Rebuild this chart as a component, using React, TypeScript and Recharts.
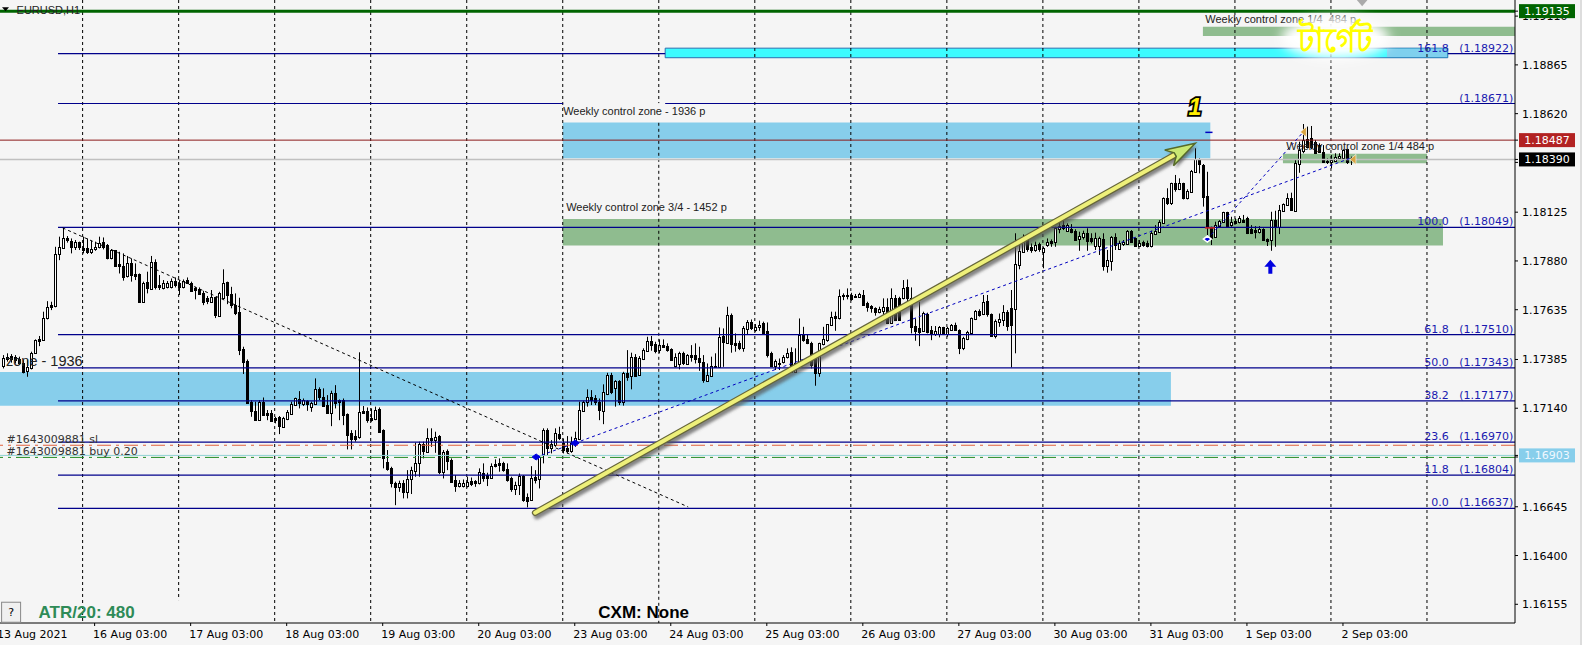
import React from 'react';
import { ComposedChart, Bar, XAxis, YAxis, ReferenceLine, ReferenceArea, ReferenceDot } from 'recharts';

// prices are the five digits after "1." (17352 = 1.17352), one hourly bar per entry
const opens = [
  17352,17399,17402,17399,17385,17365,17328,17340,17419,17486,
  17482,17591,17657,17653,17913,17946,17993,17982,17951,17973,
  17943,17943,17926,17938,17948,17973,17958,17893,17933,17864,
  17854,17804,17868,17814,17814,17675,17776,17739,17874,17759,
  17745,17747,17747,17779,17767,17747,17784,17771,17742,17737,
  17717,17692,17675,17697,17605,17692,17772,17712,17657,17622,
  17437,17379,17173,17127,17080,17173,17114,17114,17089,17097,
  17047,17086,17111,17156,17186,17161,17176,17148,17161,17235,
  17198,17156,17117,17218,17181,17181,17111,17017,17000,16993,
  17127,17127,17089,17086,17134,17030,16868,16838,16766,16745,
  16762,16720,16782,16826,16863,16958,16921,16988,16980,17000,
  16821,16926,16879,16779,16749,16749,16749,16776,16776,16762,
  16816,16804,16791,16859,16863,16866,16833,16792,16735,16752,
  16801,16695,16678,16796,16782,16905,17030,16938,16955,17013,
  16967,16938,16925,16963,16983,17127,17171,17196,17189,17173,
  17127,17214,17307,17240,17276,17173,17315,17302,17399,17307,
  17387,17429,17479,17462,17432,17457,17454,17436,17352,17362,
  17416,17362,17407,17405,17390,17374,17278,17303,17352,17348,
  17503,17469,17608,17469,17469,17444,17538,17571,17533,17546,
  17566,17528,17416,17354,17369,17374,17399,17421,17323,17365,
  17508,17486,17469,17399,17315,17462,17482,17558,17605,17591,
  17709,17709,17707,17704,17700,17709,17667,17653,17645,17625,
  17630,17650,17566,17695,17695,17692,17747,17692,17553,17541,
  17528,17613,17533,17511,17511,17546,17513,17533,17558,17533,
  17444,17489,17519,17586,17628,17613,17678,17611,17503,17575,
  17583,17625,17645,17637,17859,17926,18005,17948,17935,17963,
  17926,17962,17982,17977,18039,18059,18032,18039,18032,17992,
  17998,18022,17993,17957,17957,17992,17854,17881,17998,17940,
  17965,17963,18032,17995,17957,17977,17972,17957,18015,18027,
  18072,18194,18169,18270,18241,18270,18194,18228,18327,18392,
  18362,18206,18049,18002,18057,18077,18124,18060,18082,18074,
  18085,18094,18039,18035,18027,18040,17988,17985,18085,18049,
  18132,18161,18198,18132,18367,18434,18491,18496,18479,18462,
  18429,18384,18377,18384,18395,18395,18441,18396,
];
const closes = [
  17390,17385,17385,17382,17365,17323,17348,17419,17482,17479,
  17591,17650,17650,17913,17948,17993,17985,17951,17977,17948,
  17935,17926,17938,17951,17972,17951,17893,17935,17856,17854,
  17801,17868,17809,17804,17675,17767,17742,17873,17747,17747,
  17767,17767,17779,17759,17747,17779,17771,17730,17734,17714,
  17675,17678,17697,17608,17717,17767,17709,17658,17617,17432,
  17374,17168,17127,17080,17173,17106,17106,17077,17080,17050,
  17089,17122,17161,17189,17164,17181,17161,17168,17235,17194,
  17151,17114,17218,17168,17173,17106,17005,16983,16987,17119,
  17117,17080,17080,17131,17022,16888,16833,16762,16745,16762,
  16720,16782,16829,16863,16960,16925,16988,16980,16997,16821,
  16921,16876,16771,16749,16766,16766,16771,16759,16762,16821,
  16792,16792,16851,16849,16854,16829,16779,16735,16754,16801,
  16678,16675,16792,16779,16896,17030,16938,16958,17017,16988,
  16930,16926,16967,16988,17131,17173,17194,17181,17173,17131,
  17220,17307,17223,17276,17173,17315,17298,17399,17302,17390,
  17432,17479,17457,17429,17457,17449,17432,17382,17399,17416,
  17369,17405,17399,17385,17374,17281,17307,17352,17348,17499,
  17471,17608,17462,17457,17441,17541,17571,17541,17546,17560,
  17519,17407,17354,17377,17362,17399,17419,17323,17369,17508,
  17482,17469,17357,17318,17466,17487,17561,17596,17591,17705,
  17704,17704,17689,17697,17714,17658,17647,17642,17625,17637,
  17647,17570,17692,17583,17583,17745,17692,17549,17529,17524,
  17616,17524,17519,17529,17546,17513,17544,17558,17533,17444,
  17491,17521,17591,17628,17608,17675,17611,17503,17580,17586,
  17625,17555,17558,17863,17930,18002,17938,17935,17960,17938,
  17943,17975,17972,18044,18055,18044,18059,18024,17985,18005,
  18022,17982,17982,17997,17997,17854,17885,17998,17960,17968,
  17977,18032,17977,17957,17968,17960,17955,18022,18032,18075,
  18194,18169,18270,18240,18270,18194,18231,18332,18390,18365,
  18203,18052,17993,18060,18080,18124,18055,18074,18069,18094,
  18077,18018,18018,18027,18040,17985,17982,18085,18049,18136,
  18166,18194,18136,18370,18437,18488,18454,18451,18421,18429,
  18379,18375,18387,18400,18407,18437,18379,18390,
];
const highs = [
  17407,17416,17412,17407,17399,17382,17382,17424,17486,17503,
  17625,17678,17675,17951,18002,18049,18005,17993,17985,17977,
  18002,17993,17982,17977,18002,17998,17965,17940,17935,17926,
  17918,17905,17893,17868,17817,17776,17826,17905,17888,17809,
  17784,17779,17792,17797,17784,17787,17797,17776,17750,17747,
  17730,17704,17734,17700,17725,17838,17776,17750,17717,17695,
  17449,17385,17181,17173,17181,17194,17131,17131,17097,17101,
  17097,17131,17173,17193,17226,17189,17181,17173,17290,17245,
  17240,17206,17228,17256,17184,17189,17114,17030,17030,17421,
  17151,17144,17139,17148,17144,17034,16930,16846,16771,16776,
  16779,16829,16846,16967,16972,16972,17039,17039,17022,17005,
  16930,16933,16888,16804,16779,16782,16796,16792,16779,16838,
  16863,16816,16863,16883,16888,16871,16863,16796,16771,16812,
  16804,16712,16849,16829,16905,17039,17039,16980,17039,17047,
  16988,17000,16997,17022,17173,17178,17235,17231,17206,17189,
  17260,17318,17318,17281,17281,17323,17432,17419,17412,17402,
  17441,17499,17503,17474,17486,17486,17466,17441,17416,17424,
  17424,17412,17457,17466,17449,17407,17365,17399,17416,17546,
  17541,17650,17616,17516,17479,17553,17583,17586,17563,17580,
  17575,17571,17424,17385,17390,17407,17441,17446,17441,17591,
  17549,17508,17474,17416,17469,17549,17563,17625,17625,17737,
  17717,17742,17720,17714,17720,17734,17675,17658,17647,17650,
  17692,17692,17742,17709,17700,17784,17787,17747,17591,17675,
  17625,17620,17553,17553,17553,17549,17549,17563,17570,17536,
  17499,17529,17596,17633,17637,17709,17709,17616,17586,17616,
  17658,17633,17734,18019,17972,18013,18013,17968,17977,17972,
  17951,17993,17988,18052,18077,18089,18069,18065,18039,18027,
  18032,18044,18019,18022,18002,18019,17935,18005,18019,17982,
  17985,18035,18035,17998,17985,17982,17982,18032,18060,18085,
  18199,18245,18273,18312,18295,18273,18240,18337,18446,18395,
  18367,18328,18052,18077,18085,18127,18127,18102,18094,18106,
  18111,18102,18060,18055,18055,18044,17993,18127,18132,18161,
  18169,18220,18223,18387,18479,18568,18555,18558,18488,18471,
  18462,18395,18412,18421,18421,18441,18444,18404,
];
const lows = [
  17340,17374,17369,17365,17357,17315,17298,17335,17416,17452,
  17479,17586,17633,17647,17884,17943,17972,17918,17935,17935,
  17918,17915,17915,17931,17943,17938,17888,17888,17851,17817,
  17781,17797,17776,17784,17670,17672,17717,17734,17737,17734,
  17737,17742,17742,17747,17709,17742,17764,17724,17687,17709,
  17658,17663,17670,17593,17600,17687,17663,17642,17608,17407,
  17312,17164,17097,17077,17077,17101,17080,17074,17064,17010,
  17044,17080,17106,17151,17139,17151,17127,17122,17156,17181,
  17148,17111,17050,17139,17080,17055,16933,16933,16972,16987,
  17114,17067,17072,17080,17017,16838,16826,16742,16653,16720,
  16687,16687,16709,16796,16796,16888,16916,16946,16916,16809,
  16787,16829,16767,16720,16742,16742,16742,16749,16745,16757,
  16771,16749,16787,16843,16821,16821,16771,16720,16704,16704,
  16670,16642,16675,16762,16737,16863,16905,16913,16946,16980,
  16913,16913,16916,16946,16980,17122,17148,17156,17156,17080,
  17060,17206,17211,17148,17156,17153,17278,17235,17298,17302,
  17382,17424,17429,17416,17416,17446,17424,17379,17345,17335,
  17357,17357,17374,17365,17328,17268,17273,17298,17345,17345,
  17348,17466,17419,17424,17432,17424,17508,17533,17524,17529,
  17516,17395,17348,17332,17332,17365,17390,17318,17318,17357,
  17474,17462,17340,17253,17298,17456,17474,17553,17529,17586,
  17683,17687,17680,17694,17697,17655,17625,17620,17605,17617,
  17608,17563,17563,17578,17580,17687,17675,17516,17479,17452,
  17523,17516,17482,17503,17496,17508,17499,17528,17528,17412,
  17432,17482,17516,17583,17600,17608,17600,17499,17491,17549,
  17553,17529,17345,17416,17838,17921,17926,17921,17926,17926,
  17843,17951,17951,17951,18019,18035,18027,18019,17982,17931,
  17988,17931,17968,17935,17910,17831,17821,17831,17935,17935,
  17955,17960,17972,17951,17951,17951,17948,17948,18010,18022,
  18069,18161,18161,18228,18236,18189,18189,18223,18323,18320,
  18153,18010,17960,17997,18052,18074,18052,18052,18065,18069,
  18074,18015,18015,17993,18018,17982,17955,17931,17951,18015,
  18127,18156,18132,18127,18323,18421,18446,18441,18417,18424,
  18374,18367,18345,18379,18390,18390,18367,18362,
];

const xTickBars = [-1, 23, 47, 71, 95, 119, 143, 167, 191, 215, 239, 263, 287, 311, 335];
const xTickLabels = ['13 Aug 2021', '16 Aug 03:00', '17 Aug 03:00', '18 Aug 03:00', '19 Aug 03:00', '20 Aug 03:00', '23 Aug 03:00', '24 Aug 03:00', '25 Aug 03:00', '26 Aug 03:00', '27 Aug 03:00', '30 Aug 03:00', '31 Aug 03:00', '1 Sep 03:00', '2 Sep 03:00'];
const separatorBars = [20, 44, 68, 92, 116, 140, 164, 188, 212, 236, 260, 284, 308, 332, 356];

const yTicks = [1.19110, 1.18865, 1.18620, 1.18375, 1.18125, 1.17880, 1.17635, 1.17385, 1.17140, 1.16895, 1.16645, 1.16400, 1.16155];
const priceTags = [1.19135, 1.18487, 1.18390, 1.16903];
const priceTagFills = ['#006400', '#b22222', '#000000', '#87ceeb'];

const fibLevels = [1.18922, 1.18671, 1.18049, 1.17510, 1.17343, 1.17177, 1.16970, 1.16804, 1.16637];
const fibNames = ['161.8', '', '100.0', '61.8', '50.0', '38.2', '23.6', '11.8', '0.0'];

const X_DOMAIN: [number, number] = [-0.65, 378];
const Y_DOMAIN: [number, number] = [1.16061, 1.19191];

const FONT = '"DejaVu Sans", sans-serif';
const ARIAL = '"Liberation Sans", Arial, sans-serif';

const rows = opens.map((o, i) => ({
  bar: i,
  open: 1 + o / 100000,
  close: 1 + closes[i] / 100000,
  high: 1 + highs[i] / 100000,
  low: 1 + lows[i] / 100000,
  range: [1 + lows[i] / 100000, 1 + highs[i] / 100000],
}));

const Candle = (props: any) => {
  const { x, y, width, height, payload } = props;
  const perPrice = height / Math.max(payload.high - payload.low, 0.00001);
  const toY = (p: number) => y + (payload.high - p) * perPrice;
  const cx = Math.round(x + width / 2);
  const up = payload.close >= payload.open;
  const top = Math.round(toY(Math.max(payload.open, payload.close)));
  const bottom = Math.round(toY(Math.min(payload.open, payload.close)));
  return (
    <g>
      <line x1={cx + 0.5} x2={cx + 0.5} y1={y} y2={y + height} stroke="#000" strokeWidth={1} />
      <rect x={cx - 0.5} y={top + 0.5} width={2} height={Math.max(bottom - top, 1)} fill={up ? '#fff' : '#000'} stroke="#000" strokeWidth={1} />
    </g>
  );
};

const PriceTick = (props: any) => {
  const { x, y, payload } = props;
  const tag = priceTags.indexOf(payload.value);
  if (tag >= 0) {
    return (
      <g>
        <rect x={x - 3} y={y - 7} width={56} height={14} fill={priceTagFills[tag]} />
        <text x={x + 25} y={y + 4} textAnchor="middle" fontFamily={FONT} fontSize={11} fill={tag === 3 ? '#f0f8ff' : '#fff'}>{payload.value.toFixed(5)}</text>
      </g>
    );
  }
  return <text x={x} y={y + 4} fontFamily={FONT} fontSize={11} fill="#000">{payload.value.toFixed(5)}</text>;
};

const TimeTick = (props: any) => {
  const { x, y, payload } = props;
  return <text x={x - 1.5} y={y + 12} fontFamily={FONT} fontSize={11} fill="#000">{xTickLabels[xTickBars.indexOf(payload.value)]}</text>;
};

const note = (text: string, opts: any = {}) => (p: any) => (
  <text x={p.cx} y={p.cy} fontFamily={opts.font || ARIAL} fontSize={opts.size || 11} fill={opts.color || '#222'}
    fontWeight={opts.weight} fontStyle={opts.italic ? 'italic' : undefined} textAnchor={opts.anchor || 'start'}
    stroke={opts.outline} strokeWidth={opts.outline ? 3.5 : undefined} style={{ whiteSpace: 'pre', paintOrder: 'stroke' }}>{text}</text>
);

const YellowArrow = (p: any) => {
  const { x1, y1, x2, y2 } = p;
  const len = Math.hypot(x2 - x1, y2 - y1);
  const ux = (x2 - x1) / len;
  const uy = (y2 - y1) / len;
  const at = (along: number, side: number) => `${x2 - ux * along - uy * side},${y2 - uy * along + ux * side}`;
  const neckX = x2 - ux * 22;
  const neckY = y2 - uy * 22;
  const head = [at(0, 0), at(30, -9), at(23, -2), at(23, 2), at(30, 9)].join(' ');
  return (
    <g>
      <defs>
        <filter id="arrowShade" x="-5%" y="-5%" width="110%" height="110%">
          <feGaussianBlur stdDeviation="1.6" />
        </filter>
      </defs>
      <g filter="url(#arrowShade)" transform="translate(2,3)">
        <line x1={x1} y1={y1} x2={neckX} y2={neckY} stroke="#555" strokeWidth={7} strokeLinecap="round" opacity={0.7} />
        <polygon points={head} fill="#555" opacity={0.7} />
      </g>
      <line x1={x1} y1={y1} x2={neckX} y2={neckY} stroke="#66663a" strokeWidth={6.5} strokeLinecap="round" />
      <line x1={x1} y1={y1} x2={neckX} y2={neckY} stroke="#eef07a" strokeWidth={4} strokeLinecap="round" />
      <polygon points={head} fill="#c9e873" stroke="#566a2a" strokeWidth={1.5} />
    </g>
  );
};

const TargetGlow = (p: any) => (
  <g>
    <defs>
      <filter id="targetBlur" x="-30%" y="-60%" width="160%" height="220%">
        <feGaussianBlur stdDeviation="6" />
      </filter>
    </defs>
    <ellipse cx={p.cx} cy={p.cy} rx={54} ry={21} fill="#fff" filter="url(#targetBlur)" />
    <text x={p.cx} y={p.cy + 14} textAnchor="middle" fontSize={34} fontWeight="bold" fill="#ffff00" fontFamily={FONT} textLength={74} lengthAdjust="spacingAndGlyphs">টার্গেট</text>
  </g>
);

const BlueUp = (p: any) => (
  <path d={`M${p.cx},${p.cy - 7} L${p.cx + 6},${p.cy} L${p.cx + 2},${p.cy} L${p.cx + 2},${p.cy + 7} L${p.cx - 2},${p.cy + 7} L${p.cx - 2},${p.cy} L${p.cx - 6},${p.cy} Z`} fill="#0000e0" />
);
const BlueMark = (halo: boolean) => (p: any) => (
  <path d={`M${p.cx - 4},${p.cy} L${p.cx},${p.cy - 3} L${p.cx + 4},${p.cy} L${p.cx},${p.cy + 3} Z`} fill="#0000e0" stroke={halo ? '#fff' : '#0000e0'} strokeWidth={halo ? 1.5 : 1} />
);
const GoldMark = (p: any) => (
  <path d={`M${p.cx - 3},${p.cy} L${p.cx + 3},${p.cy - 5} L${p.cx + 3},${p.cy + 5} Z`} fill="#d9a441" stroke="#fff" strokeWidth={0.6} />
);
const TopMark = (p: any) => (
  <path d={`M${p.cx - 6},${p.cy - 3} L${p.cx + 6},${p.cy - 3} L${p.cx},${p.cy + 4} Z`} fill="#aaa" />
);

function TopMarkSmall(p: any) {
  return <path d={`M${p.cx - 3},${p.cy - 2} L${p.cx + 4},${p.cy - 2} L${p.cx + 0.5},${p.cy + 2} Z`} fill="#000" />;
}

function QuestionButton(p: any) {
  return (
    <g>
      <rect x={p.cx - 9} y={p.cy - 15} width={19} height={20} fill="#f0f0f0" stroke="#888" />
      <text x={p.cx + 0.5} y={p.cy - 1} textAnchor="middle" fontFamily={FONT} fontSize={11} fill="#000">?</text>
    </g>
  );
}

const App: React.FC = () => (
  <div style={{ position: 'relative', width: 1582, height: 645, background: '#f5f5f5', overflow: 'hidden', boxSizing: 'border-box', borderRight: '2px solid #ddd' }}>
    <style>{'body{margin:0}'}</style>
    <ComposedChart width={1582} height={645} data={rows} margin={{ top: 0, right: 0, bottom: 0, left: 0 }}>
      <XAxis
        type="number"
        dataKey="bar"
        domain={X_DOMAIN}
        allowDataOverflow
        ticks={xTickBars}
        interval={0}
        height={22}
        tick={<TimeTick />}
        tickSize={3}
        tickMargin={0}
        stroke="#000"
      />
      <YAxis
        orientation="right"
        domain={Y_DOMAIN}
        allowDataOverflow
        ticks={[...yTicks, ...priceTags]}
        interval={0}
        width={67}
        tick={<PriceTick />}
        tickSize={3}
        tickMargin={4}
        stroke="#000"
      />

      <ReferenceArea x1={-0.65} x2={292} y1={1.17153} y2={1.17322} fill="#87ceeb" fillOpacity={1} ifOverflow="visible" />
      <ReferenceArea x1={140} x2={301.85} y1={1.18396} y2={1.18575} fill="#87ceeb" fillOpacity={1} />
      <ReferenceArea x1={140} x2={360} y1={1.17957} y2={1.18091} fill="#8fbc8f" fillOpacity={1} />
      <ReferenceArea x1={300} x2={378} y1={1.19010} y2={1.19056} fill="#8fbc8f" fillOpacity={1} />
      <ReferenceArea x1={320} x2={356} y1={1.18371} y2={1.18419} fill="#8fbc8f" fillOpacity={1} />
      <ReferenceArea x1={165.6} x2={361.2} y1={1.18901} y2={1.18949} fill="#3dfbff" fillOpacity={1} stroke="#2b6fb0" />
      <ReferenceArea x1={346} x2={361} y1={1.18904} y2={1.18946} fill="#7fd0ee" fillOpacity={1} />

      {separatorBars.map((b, i) => (
        b === 164 ? (
          <React.Fragment key={b}>
            <ReferenceLine segment={[{ x: b, y: Y_DOMAIN[1] }, { x: b, y: 1.18673 }]} stroke="#000" strokeDasharray="3 3" />
            <ReferenceLine segment={[{ x: b, y: 1.18574 }, { x: b, y: Y_DOMAIN[0] }]} stroke="#000" strokeDasharray="3 3" />
          </React.Fragment>
        ) : (
          <ReferenceLine key={b} segment={[{ x: b, y: Y_DOMAIN[1] }, { x: b, y: i === 1 ? 1.16176 : Y_DOMAIN[0] }]} stroke="#000" strokeDasharray="3 3" />
        )
      ))}

      <ReferenceLine y={1.18390} stroke="#c0c0c0" strokeWidth={1.5} />
      <ReferenceLine y={1.18487} stroke="#8b1a1a" />
      <ReferenceLine y={1.16954} stroke="#e0603c" strokeDasharray="14 5 3 5" />
      <ReferenceLine y={1.16903} stroke="#8fd3d3" />
      <ReferenceLine y={1.16893} stroke="#228b22" strokeDasharray="14 5 3 5" />
      {fibLevels.map((level) => (
        level === 1.18671 ? (
          <React.Fragment key={level}>
            <ReferenceLine segment={[{ x: 13.85, y: level }, { x: 140.1, y: level }]} stroke="#00008b" strokeWidth={1.2} />
            <ReferenceLine segment={[{ x: 165.6, y: level }, { x: 378, y: level }]} stroke="#00008b" strokeWidth={1.2} />
          </React.Fragment>
        ) : level === 1.18922 ? (
          <React.Fragment key={level}>
            <ReferenceLine segment={[{ x: 13.85, y: level }, { x: 165.6, y: level }]} stroke="#00008b" strokeWidth={1.2} />
            <ReferenceLine segment={[{ x: 361.2, y: level }, { x: 378, y: level }]} stroke="#00008b" strokeWidth={1.2} />
          </React.Fragment>
        ) : (
          <ReferenceLine key={level} segment={[{ x: 13.85, y: level }, { x: 378, y: level }]} stroke="#00008b" strokeWidth={1.2} />
        )
      ))}

      <ReferenceLine segment={[{ x: 15, y: 1.18046 }, { x: 171.35, y: 1.16644 }]} stroke="#000" strokeDasharray="3 3" />
      <ReferenceLine segment={[{ x: 133.35, y: 1.16895 }, { x: 143.1, y: 1.16965 }]} stroke="#0000c0" strokeDasharray="3 3" />
      <ReferenceLine segment={[{ x: 143.1, y: 1.16965 }, { x: 336.85, y: 1.18396 }]} stroke="#0000c0" strokeDasharray="3 3" />
      <ReferenceLine segment={[{ x: 301.1, y: 1.17990 }, { x: 325.1, y: 1.18528 }]} stroke="#0000c0" strokeDasharray="3 3" />

      <Bar dataKey="range" barSize={3} shape={<Candle />} isAnimationActive={false} />

      <ReferenceLine y={1.19135} stroke="#006400" strokeWidth={3} />

      <ReferenceLine segment={[{ x: 300.6, y: 1.18526 }, { x: 302.4, y: 1.18526 }]} stroke="#0000c0" strokeWidth={1.5} />
      <ReferenceLine segment={[{ x: 300.5, y: 1.18046 }, { x: 303, y: 1.18046 }]} stroke="#d02020" strokeWidth={1.5} />

      <ReferenceLine segment={[{ x: 133.1, y: 1.16615 }, { x: 298.1, y: 1.18471 }]} shape={<YellowArrow />} />

      {fibLevels.map((level, i) => (
        <ReferenceDot key={level} x={377.6} y={level + 0.0001} r={0} ifOverflow="visible"
          shape={note(`${fibNames[i]}   (${level.toFixed(5)})`, { font: FONT, color: '#1a1ab0', anchor: 'end' })} />
      ))}

      <ReferenceDot x={140.1} y={1.18613} r={0} shape={note('Weekly control zone - 1936 p')} />
      <ReferenceDot x={140.85} y={1.18133} r={0} shape={note('Weekly control zone 3/4 - 1452 p')} />
      <ReferenceDot x={320.85} y={1.18438} r={0} shape={note('Weekly control zone 1/4 484 p')} />
      <ReferenceDot x={300.6} y={1.19076} r={0} shape={note('Weekly control zone 1/4  484 p')} />
      <ReferenceDot x={20} y={1.17354} r={0} shape={note('zone - 1936', { size: 14.5, anchor: 'end' })} />
      <ReferenceDot x={1} y={1.16967} r={0} shape={note('#1643009881 sl', { font: FONT, color: '#333' })} />
      <ReferenceDot x={1} y={1.16905} r={0} shape={note('#1643009881 buy 0.20', { font: FONT, color: '#333' })} />
      <ReferenceDot x={3.5} y={1.19121} r={0} shape={note('EURUSD,H1', { color: '#222', size: 11 })} />
      <ReferenceDot x={0.6} y={1.19145} r={0} shape={TopMarkSmall} />

      <ReferenceDot x={333.1} y={1.19} r={0} shape={TargetGlow} />
      <ReferenceDot x={298} y={1.18613} r={0} shape={note('1', { size: 23, color: '#ffee00', weight: 'bold', italic: true, anchor: 'middle', outline: '#000' })} />

      <ReferenceDot x={316.85} y={1.17851} r={0} shape={BlueUp} />
      <ReferenceDot x={133.35} y={1.16895} r={0} shape={BlueMark(false)} />
      <ReferenceDot x={143.1} y={1.16965} r={0} shape={BlueMark(false)} />
      <ReferenceDot x={301.1} y={1.17990} r={0} shape={BlueMark(true)} />
      <ReferenceDot x={325.1} y={1.18528} r={0} shape={GoldMark} />
      <ReferenceDot x={337.5} y={1.18390} r={0} shape={GoldMark} />
      <ReferenceDot x={339.8} y={1.19180} r={0} shape={TopMark} />

      <ReferenceDot x={9} y={1.16085} r={0} shape={note('ATR/20: 480', { size: 17, color: '#2e8b57', weight: 'bold' })} />
      <ReferenceDot x={148.9} y={1.16085} r={0} shape={note('CXM: None', { size: 17, color: '#000', weight: 'bold' })} />
      <ReferenceDot x={2} y={1.16090} r={0} shape={QuestionButton} />
    </ComposedChart>
  </div>
);

export default App;
